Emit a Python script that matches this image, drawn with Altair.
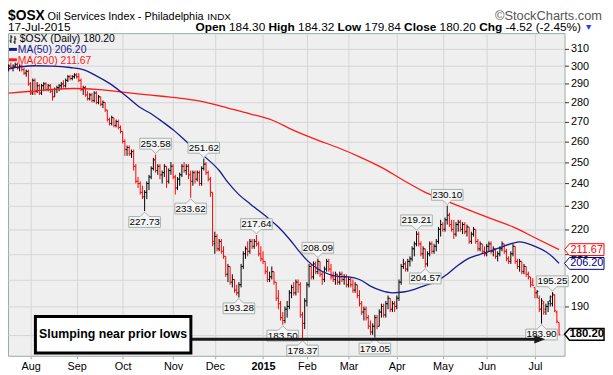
import altair as alt
import pandas as pd

# ---------------- data ($OSX daily, 18-Jul-2014 .. 17-Jul-2015) ----------------
opens = [
    298, 300, 299, 300, 301, 299, 300, 298, 296, 297,
    290, 285, 292, 286, 289, 285, 289, 290, 287, 289,
    286, 283, 287, 288, 289, 290, 289, 292, 294, 293,
    294, 295, 294, 292, 287, 288, 284, 282, 284, 281,
    285, 280, 283, 279, 280, 276, 271, 269, 272, 268,
    270, 267, 265, 260, 256, 257, 254, 255, 248, 241,
    240, 236, 234, 236, 240, 243, 247, 251, 246, 248,
    244, 245, 248, 241, 246, 248, 243, 238, 242, 244,
    248, 246, 248, 244, 241, 245, 242, 245, 240, 247,
    249, 245, 242, 236, 214, 217, 212, 215, 211, 209,
    202, 205, 199, 200, 196, 195, 198, 205, 210, 212,
    211, 215, 213, 215, 214, 210, 208, 207, 203, 200,
    201, 203, 199, 193, 191, 186, 185, 189, 190, 195,
    197, 195, 199, 198, 187, 184, 192, 198, 205, 201,
    206, 203, 207, 202, 200, 204, 207, 204, 201, 200,
    202, 199, 202, 200, 201, 198, 200, 198, 196, 198,
    194, 191, 188, 189, 186, 183, 181, 183, 186, 183,
    188, 190, 187, 191, 193, 189, 191, 190, 193, 199,
    205, 206, 204, 207, 208, 212, 214, 218, 214, 210,
    212, 206, 210, 214, 211, 213, 215, 220, 222, 220,
    224, 226, 222, 220, 218, 222, 223, 220, 222, 219,
    221, 215, 218, 220, 215, 212, 214, 211, 210, 213,
    214, 211, 212, 209, 210, 212, 214, 211, 208, 207,
    210, 213, 207, 205, 207, 203, 205, 202, 201, 199,
    197, 195, 193, 189, 191, 189, 190, 192, 191, 194,
    188, 184.30,
]
highs = [
    301, 302, 301, 302, 302, 301, 301, 299, 298, 298,
    291, 293, 293, 291, 290, 290, 291, 291, 290, 290,
    287, 288, 289, 290, 291, 292, 293, 295, 295, 295,
    296, 296, 296, 293, 289, 289, 286, 285, 285, 286,
    286, 284, 283, 281, 280, 276, 272, 273, 272, 271,
    271, 268, 265, 261, 258, 258, 256, 256, 249, 243,
    241, 239, 237, 241, 244, 248, 252, 253.58, 249, 249,
    246, 249, 248, 247, 250, 249, 244, 243, 245, 249,
    250, 249, 249, 246, 246, 246, 246, 246, 248, 251.62,
    250, 246, 243, 236, 219, 218, 216, 216, 213, 209,
    206, 205, 202, 200, 198, 199, 206, 211, 213, 215,
    216, 216, 216, 217.64, 215, 213, 211, 207, 205, 203,
    205, 203, 199, 196, 192, 188, 190, 192, 196, 198,
    199, 200, 200, 199, 188, 193, 199, 206, 206, 207,
    207, 208.09, 207, 203, 205, 208, 208, 206, 203, 203,
    202, 203, 203, 202, 202, 201, 201, 200, 199, 198,
    196, 192, 190, 190, 187, 185, 184, 187, 187, 189,
    191, 191, 192, 194, 193, 192, 192, 194, 200, 206,
    208, 207, 208, 209, 213, 215, 219.21, 219, 215, 213,
    212, 211, 215, 215, 214, 216, 221, 224, 223, 225,
    230.10, 227, 224, 224, 223, 224, 224, 223, 223, 222,
    221, 219, 221, 220, 216, 215, 214, 213, 214, 215,
    215, 213, 212, 211, 213, 215, 214, 212, 209, 211,
    214, 213, 208, 208, 207, 206, 205, 203, 201, 200.5,
    197, 196, 194, 193, 192, 191, 192, 194, 195.25, 194.5,
    188.5, 184.32,
]
lows = [
    297, 298, 297, 299, 298, 297, 297, 295, 294, 289,
    284, 284, 284, 285, 284, 284, 286, 286, 286, 285,
    281, 283, 285, 286, 287, 288, 288, 291, 292, 292,
    293, 293, 291, 286, 284, 283, 281, 281, 280, 280,
    279, 279, 278, 277, 275, 270, 268, 268, 267, 267,
    266, 264, 259, 253, 253, 253, 252, 246, 240, 238,
    235, 233, 227.73, 233, 237, 242, 246, 245, 244, 242,
    240, 243, 238, 240, 244, 242, 235, 237, 239, 243,
    245, 244, 242, 233.62, 239, 240, 241, 239, 239, 246,
    244, 241, 234, 213, 210, 211, 211, 210, 208, 201,
    199, 198, 197, 195, 194, 193.28, 197, 204, 208, 209,
    210, 212, 212, 213, 209, 207, 206, 202, 199, 199,
    200, 198, 192, 189, 185, 183.50, 184, 186, 189, 193,
    194, 194, 195, 186, 178.37, 182, 190, 197, 200, 200,
    202, 202, 201, 198, 199, 203, 203, 200, 199, 198,
    198, 198, 199, 198, 197, 197, 197, 195, 195, 193,
    190, 187, 185, 185, 182, 180, 180, 179.05, 182, 183,
    186, 186, 186, 189, 188, 188, 188, 189, 192, 198,
    204, 203, 203, 205, 207, 209, 213, 213, 209, 208,
    204.57, 205, 209, 210, 210, 211, 214, 217, 219, 219,
    222, 221, 219, 216, 217, 219, 219, 218, 218, 217,
    214, 214, 217, 214, 211, 211, 210, 209, 209, 211,
    210, 209, 208, 207, 209, 211, 210, 207, 206, 206,
    209, 206, 204, 203, 202, 202, 201, 200, 197, 197.5,
    193, 193, 188, 183.90, 187, 187, 188, 190, 190, 188,
    184, 179.84,
]
closes = [
    300, 299, 300, 301, 299, 300, 298, 296, 297, 290,
    285, 292, 286, 289, 285, 289, 290, 287, 289, 286,
    283, 287, 288, 289, 290, 289, 292, 294, 293, 294,
    295, 294, 292, 287, 288, 284, 282, 284, 281, 285,
    280, 283, 279, 280, 276, 271, 269, 272, 268, 270,
    267, 265, 260, 256, 257, 254, 255, 248, 241, 240,
    236, 234, 236, 240, 243, 247, 251, 246, 248, 244,
    245, 248, 241, 246, 248, 243, 238, 242, 244, 248,
    246, 248, 244, 241, 245, 242, 245, 240, 247, 249,
    245, 242, 236, 215, 217, 212, 215, 211, 209, 202,
    205, 199, 200, 196, 195, 198, 205, 210, 212, 211,
    215, 213, 215, 214, 210, 208, 207, 203, 200, 201,
    203, 199, 193, 191, 186, 185, 189, 190, 195, 197,
    195, 199, 198, 187, 184, 192, 198, 205, 201, 206,
    203, 207, 202, 200, 204, 207, 204, 201, 200, 202,
    199, 202, 200, 201, 198, 200, 198, 196, 198, 194,
    191, 188, 189, 186, 183, 181, 183, 186, 183, 188,
    190, 187, 191, 193, 189, 191, 190, 193, 199, 205,
    206, 204, 207, 208, 212, 214, 218, 214, 210, 212,
    206, 210, 214, 211, 213, 215, 220, 222, 220, 224,
    226, 222, 220, 218, 222, 223, 220, 222, 219, 221,
    215, 218, 220, 215, 212, 214, 211, 210, 213, 214,
    211, 212, 209, 210, 212, 214, 211, 208, 207, 210,
    213, 207, 205, 207, 203, 205, 202, 201, 198, 197.8,
    195, 195.5, 189, 192, 188, 190, 191, 193.5, 194.5, 188.5,
    184.72, 180.20,
]

# month starts (trading-day index) and their labels
month_idx = [10, 31, 52, 75, 94, 116, 136, 155, 177, 198, 218, 240]
month_lbl = ["Aug", "Sep", "Oct", "Nov", "Dec", "2015", "Feb", "Mar", "Apr", "May", "Jun", "Jul"]
year_idx = 116
y_ticks = [180, 190, 200, 210, 220, 230, 240, 250, 260, 270, 280, 290, 300, 310]

# moving averages (trading-day index, value)
ma50_idx = [0, 5, 12, 20, 28, 34, 40, 46, 54, 60, 65, 70, 75, 82, 90, 96, 100, 105, 110, 114,
            118, 123, 128, 132, 136, 141, 146, 150, 155, 160, 165, 170, 175, 180, 185, 190,
            195, 200, 205, 210, 215, 220, 225, 230, 233, 236, 240, 245, 248, 251]
ma50_val = [298.5, 299.5, 300.2, 300.0, 299.2, 298.0, 294.5, 290.3, 283.0, 277.3, 274.0, 270.0,
            265.8, 259.0, 252.0, 246.0, 240.5, 235.0, 231.0, 228.0, 225.0, 221.0, 216.0, 211.5,
            207.5, 204.0, 202.0, 201.2, 201.0, 200.0, 197.5, 195.8, 195.0, 195.3, 196.3, 197.8,
            199.2, 202.0, 205.5, 208.3, 209.8, 211.2, 212.8, 214.3, 214.8, 214.3, 213.0, 210.8,
            208.8, 206.2]
ma200_idx = [0, 10, 20, 30, 40, 50, 60, 70, 80, 90, 100, 110, 120, 130, 140, 150, 160, 170,
             180, 190, 200, 210, 220, 230, 240, 251]
ma200_val = [285.0, 286.0, 287.0, 287.5, 287.0, 285.8, 284.5, 283.3, 282.0, 280.0, 277.0, 274.0,
             270.8, 265.5, 261.0, 257.0, 252.5, 247.5, 241.5, 236.0, 232.0, 228.2, 224.5, 221.0,
             216.5, 211.67]

# swing high / low call-outs
peak_idx = [67, 89, 113, 141, 186, 200, 248]
peak_val = [253.58, 251.62, 217.64, 208.09, 219.21, 230.10, 195.25]
trough_idx = [62, 83, 105, 125, 134, 167, 190, 243]
trough_val = [227.73, 233.62, 193.28, 183.50, 178.37, 179.05, 204.57, 183.90]

# last-value flags on the price axis
flag_val = [211.67, 206.20]
flag_txt = ["211.67", "206.20"]
flag_clr = ["#ff0000", "#000080"]
last_close = 180.20

# annotation
note_text = "Slumping near prior lows"
note_box_idx = [12.2, 83.1]
note_box_val = [186.4, 173.9]
note_pos = [47.6, 180.3]
arrow_idx = [83.1, 242.2]
arrow_val = 178.5

# ---------------- chart ----------------
W, H = 564, 327
FONT = "Liberation Sans"
xs = alt.Scale(domain=[-0.3, 253.5], nice=False, zero=False)
ys = alt.Scale(type="log", domain=[173.0, 319.4], nice=False)

n = len(closes)
prev = [opens[0]] + closes[:-1]
bars = pd.DataFrame({
    "i": list(range(n)), "o": opens, "h": highs, "l": lows, "c": closes,
    "clr": ["#000000" if c >= p else "#ff0000" for c, p in zip(closes, prev)],
})
bars["il"] = bars["i"] - 0.6
bars["ir"] = bars["i"] + 0.6

label_js = "[" + ",".join("'%s'" % m for m in month_lbl) + "][indexof([" + \
    ",".join(str(v) for v in month_idx) + "], datum.value)]"

x_axis = alt.Axis(
    values=month_idx, labelExpr=label_js, title=None, grid=True, gridColor="#d5d5d5",
    domain=False, ticks=True, tickColor="#9aaca3", tickSize=3, labelFont=FONT,
    labelFontSize=11, labelColor="#000000", labelPadding=2, labelFlush=False,
    labelOverlap=False,
    labelFontWeight={"condition": {"test": "datum.value == %d" % year_idx, "value": "bold"},
                     "value": "normal"},
)
# the 180 label sits under the last-close flag, as on the original
y_axis = alt.Axis(
    orient="right", values=y_ticks, format="d", title=None, grid=True, gridColor="#d5d5d5",
    domain=False, ticks=True, tickColor="#333333", tickSize=4, labelFont=FONT,
    labelFontSize=11, labelColor="#000000", labelPadding=2, labelFlush=False,
    labelOverlap=False, labelExpr="datum.value == 180 ? '' : datum.label",
)


def X(f):
    return alt.X(f, type="quantitative", scale=xs, axis=x_axis)


def Y(f):
    return alt.Y(f, type="quantitative", scale=ys, axis=y_axis)


CLR = alt.Color("clr:N", scale=None)
hl = alt.Chart(bars).mark_rule(strokeWidth=1).encode(x=X("i"), y=Y("l"), y2="h:Q", color=CLR)
op = alt.Chart(bars).mark_rule(strokeWidth=1).encode(x=X("il"), x2="i:Q", y=Y("o"), color=CLR)
cl = alt.Chart(bars).mark_rule(strokeWidth=1).encode(x=X("i"), x2="ir:Q", y=Y("c"), color=CLR)

ma200 = alt.Chart(pd.DataFrame({"i": ma200_idx, "v": ma200_val})).mark_line(
    color="#ff1a1a", strokeWidth=1.3, interpolate="monotone").encode(x=X("i"), y=Y("v"))
ma50 = alt.Chart(pd.DataFrame({"i": ma50_idx, "v": ma50_val})).mark_line(
    color="#1a1a8c", strokeWidth=1.3, interpolate="monotone").encode(x=X("i"), y=Y("v"))

PATH_UP = "M0,-0.1 L0.45,-0.55 L1.6,-0.55 L1.6,-1.65 L-1.6,-1.65 L-1.6,-0.55 L-0.45,-0.55 Z"
PATH_DN = "M0,0.1 L0.45,0.55 L1.6,0.55 L1.6,1.65 L-1.6,1.65 L-1.6,0.55 L-0.45,0.55 Z"
peaks = pd.DataFrame({"i": peak_idx, "v": peak_val, "t": ["%.2f" % v for v in peak_val]})
troughs = pd.DataFrame({"i": trough_idx, "v": trough_val, "t": ["%.2f" % v for v in trough_val]})


def callouts(df, path, dy):
    box = alt.Chart(df).mark_point(
        shape=path, size=400, filled=True, fill="#f5f5f5", stroke="#a5b0aa",
        strokeWidth=1, opacity=1, fillOpacity=1).encode(x=X("i"), y=Y("v"))
    txt = alt.Chart(df).mark_text(
        font=FONT, fontSize=10, dy=dy, baseline="middle", align="center",
        color="#000000").encode(x=X("i"), y=Y("v"), text="t:N")
    return [box, txt]


note_df = pd.DataFrame({"x0": [note_box_idx[0]], "x1": [note_box_idx[1]],
                        "y0": [note_box_val[0]], "y1": [note_box_val[1]],
                        "tx": [note_pos[0]], "ty": [note_pos[1]], "t": [note_text]})
note_box = alt.Chart(note_df).mark_rect(fill="white", stroke="#000000", strokeWidth=3).encode(
    x=X("x0"), x2="x1:Q", y=Y("y0"), y2="y1:Q")
note_txt = alt.Chart(note_df).mark_text(
    font=FONT, fontSize=12.5, fontWeight="bold", baseline="middle", align="center",
    color="#000000").encode(x=X("tx"), y=Y("ty"), text="t:N")
arrow_df = pd.DataFrame({"x0": [arrow_idx[0]], "x1": [arrow_idx[1]], "v": [arrow_val]})
arrow_line = alt.Chart(arrow_df).mark_rule(strokeWidth=3, color="#1a1a1a").encode(
    x=X("x0"), x2="x1:Q", y=Y("v"))
arrow_head = alt.Chart(arrow_df).mark_point(
    shape="M1,0 L-1,-0.75 L-1,0.75 Z", size=121, filled=True, fill="#1a1a1a",
    opacity=1, strokeWidth=0).encode(x=X("x1"), y=Y("v"))

FLAG = "M0,0 L0.5,-0.6 L4,-0.6 L4,0.6 L0.5,0.6 Z"
flags = pd.DataFrame({"v": flag_val, "t": flag_txt, "clr": flag_clr})
flag_box = alt.Chart(flags).mark_point(
    shape=FLAG, size=400, filled=True, fill="white", strokeWidth=1, opacity=1,
    fillOpacity=1).encode(x=alt.value(W), y=Y("v"), stroke=alt.Stroke("clr:N", scale=None))
flag_txt_m = alt.Chart(flags).mark_text(
    font=FONT, fontSize=11, dx=22.5, align="center", baseline="middle").encode(
    x=alt.value(W), y=Y("v"), text="t:N", color=CLR)
close_df = pd.DataFrame({"v": [last_close], "t": ["%.2f" % last_close]})
close_box = alt.Chart(close_df).mark_point(
    shape=FLAG, size=400, filled=True, fill="white", stroke="#000000", strokeWidth=1.5,
    opacity=1, fillOpacity=1).encode(x=alt.value(W), y=Y("v"))
close_txt = alt.Chart(close_df).mark_text(
    font=FONT, fontSize=11.5, fontWeight="bold", dx=22.5, align="center",
    baseline="middle", color="#000000").encode(x=alt.value(W), y=Y("v"), text="t:N")


def txt(s, x, y, size=11, weight="normal", color="#000000", align="left", font=FONT):
    return alt.Chart(pd.DataFrame({"t": [s]})).mark_text(
        font=font, fontSize=size, fontWeight=weight, color=color, align=align,
        baseline="alphabetic").encode(x=alt.value(x), y=alt.value(y), text="t:N")


def seg(x1, x2, y, color, width):
    return alt.Chart(pd.DataFrame({"k": [0]})).mark_rule(
        color=color, strokeWidth=width).encode(x=alt.value(x1), x2=alt.value(x2), y=alt.value(y))


def vseg(x, y1, y2, color="#000000", width=1):
    return alt.Chart(pd.DataFrame({"k": [0]})).mark_rule(
        color=color, strokeWidth=width).encode(x=alt.value(x), y=alt.value(y1), y2=alt.value(y2))


L1 = -13.5
L2 = -2.5
header = [
    txt("$OSX", 0, L1, size=14, weight="bold"),
    txt("Oil Services Index - Philadelphia", 40, L1, size=11),
    txt("INDX", 202, L1, size=10),
    txt("\u00a9StockCharts.com", 602, L1, size=13, color="#555555", align="right"),
    txt("17-Jul-2015", 0, L2, size=12),
    txt("Open", 190, L2, size=12, weight="bold"),
    txt("184.30", 224, L2, size=12),
    txt("High", 264, L2, size=12, weight="bold"),
    txt("184.32", 294, L2, size=12),
    txt("Low", 334, L2, size=12, weight="bold"),
    txt("179.84", 361.4, L2, size=12),
    txt("Close", 401.4, L2, size=12, weight="bold"),
    txt("180.20", 437.4, L2, size=12),
    txt("Chg", 477.5, L2, size=12, weight="bold"),
    txt("-4.52 (-2.45%)", 504.1, L2, size=12),
    txt("\u25bc", 584, L2 - 0.5, size=9, color="#1f3fff"),
]
legend = [
    vseg(3, 2, 10), seg(1.5, 3, 8, "#000000", 1), seg(3, 4.5, 4, "#000000", 1),
    vseg(7, 3, 11), seg(5.5, 7, 9, "#000000", 1), seg(7, 8.5, 6, "#000000", 1),
    txt("$OSX (Daily) 180.20", 12, 9.5, size=10.5),
    seg(1, 9, 16.5, "#1a1a8c", 3),
    txt("MA(50) 206.20", 10, 20.5, size=10.5, color="#1a1a8c"),
    seg(1, 9, 27, "#ff1a1a", 3),
    txt("MA(200) 211.67", 10, 31, size=10.5, color="#ff1a1a"),
]

layers = [hl, op, cl, ma200, ma50] + callouts(peaks, PATH_UP, -11) + \
    callouts(troughs, PATH_DN, 11) + \
    [arrow_line, arrow_head, note_box, note_txt, flag_box, flag_txt_m, close_box, close_txt] + \
    header + legend

chart = alt.layer(*layers).properties(
    width=W, height=H,
    padding={"left": 0, "top": 23, "right": 41, "bottom": 17},
    autosize=alt.AutoSizeParams(type="none"),
    background="#ffffff",
).configure_view(stroke="#9aaca3", strokeWidth=1, fill="#efefef")

chart.save("out.html", embed_options={"renderer": "svg", "actions": False})
